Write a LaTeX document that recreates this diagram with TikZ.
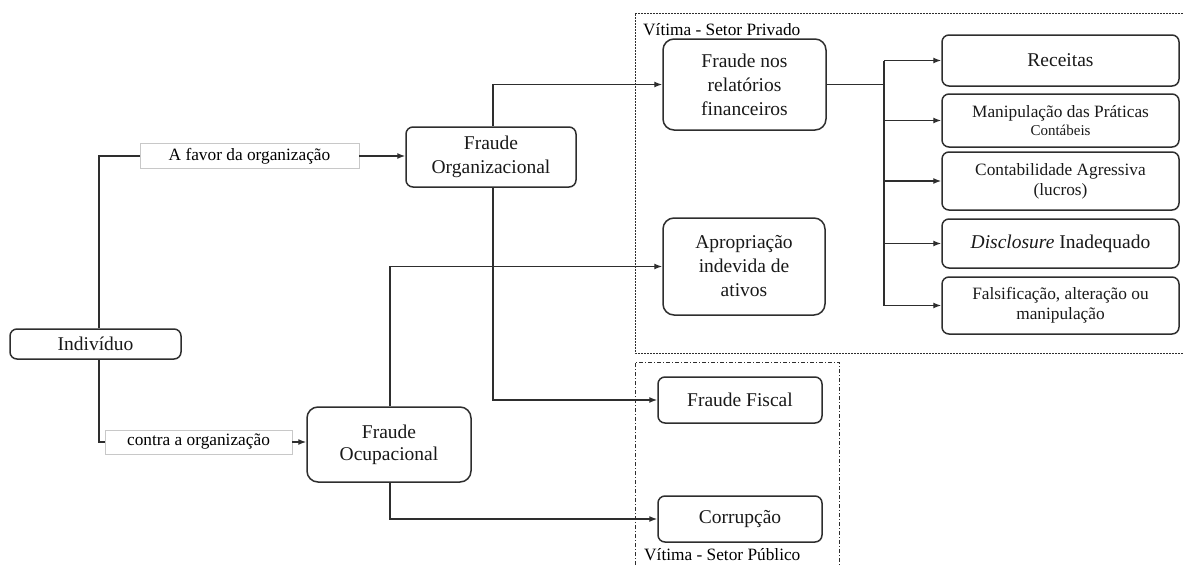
\documentclass[tikz,border=0pt]{standalone}
\usepackage{fontspec}
\setmainfont{Liberation Serif}
\newfontfamily\lser{Liberation Serif}
\usetikzlibrary{arrows.meta}
\definecolor{ln}{HTML}{2E2E2E}
\definecolor{lb}{HTML}{C8C8C8}
\begin{document}
\begin{tikzpicture}[x=1pt,y=-1pt,
  box/.style={draw=ln,line width=1.5pt,rounded corners=7pt,align=center,inner sep=0pt,text=black!90,font=\lser\fontsize{19.5}{24}\selectfont},
  sbox/.style={box,font=\lser\fontsize{17.3}{20}\selectfont},
  lab/.style={draw=lb,line width=0.8pt,inner sep=0pt,align=center,font=\lser\fontsize{17.3}{20}\selectfont,fill=white},
  conn/.style={draw=ln,line width=1.4pt},
  arr/.style={conn,-{Latex[length=8pt,width=6pt]}},
  reg/.style={font=\lser\fontsize{17.3}{20}\selectfont,inner sep=0pt,anchor=west}
]
\useasboundingbox (0,0) rectangle (1183,565);
% regions
\draw[ln,line width=1pt,dash pattern=on 2pt off 1pt] (1183,13) -- (635,13) -- (635,353) -- (1183,353);
\draw[ln,line width=1pt,dash pattern=on 4pt off 2pt on 1pt off 2pt] (635,565) -- (635,362) -- (839,362) -- (839,565);
\node[reg] (vpriv) at (643,30) {Vítima - Setor Privado};
\node[reg] (vpub) at (644,555) {Vítima - Setor Público};
% nodes
\node[box,minimum width=171,minimum height=30] (ind) at (95.5,344) {Indivíduo};
\node[lab,minimum width=219,minimum height=25] (lab1) at (249.5,156) {A favor da organização};
\node[lab,minimum width=187,minimum height=24] (lab2) at (198.5,442) {contra a organização};
\node[box,minimum width=170,minimum height=60] (fo) at (491,157) {Fraude\\Organizacional};
\node[box,rounded corners=11pt,minimum width=164,minimum height=75,font=\lser\fontsize{19.5}{22}\selectfont] (foc) at (389,444.5) {Fraude\\Ocupacional};
\node[box,rounded corners=11pt,minimum width=163,minimum height=91] (fnr) at (744.5,84.5) {Fraude nos\\relatórios\\financeiros};
\node[box,rounded corners=11pt,minimum width=162,minimum height=97] (apr) at (744,266.5) {Apropriação\\indevida de\\ativos};
\node[box,minimum width=164,minimum height=46] (ff) at (740,400) {Fraude Fiscal};
\node[box,minimum width=164,minimum height=46] (cor) at (740,519) {Corrupção};
\node[box,minimum width=237,minimum height=51] (rec) at (1060.5,60.5) {Receitas};
\node[sbox,minimum width=237,minimum height=53] (man) at (1060.5,120.5) {Manipulação das Práticas\\[-2pt]{\fontsize{15}{16}\selectfont Contábeis}};
\node[sbox,minimum width=237,minimum height=58] (con) at (1060.5,181) {Contabilidade Agressiva\\(lucros)};
\node[box,minimum width=237,minimum height=49] (dis) at (1060.5,243.5) {\textit{Disclosure} Inadequado};
\node[sbox,minimum width=237,minimum height=57] (fal) at (1060.5,305.5) {Falsificação, alteração ou\\manipulação};
% connectors
\draw[conn] ([xshift=3.5]ind.north) |- (lab1.west);
\draw[arr] (lab1.east) -- (lab1.east -| fo.west);
\draw[conn] ([xshift=3.5]ind.south) |- (lab2.west);
\draw[arr] (lab2.east) -- (lab2.east -| foc.west);
\draw[arr] ([xshift=2]fo.north) |- (fnr.west);
\draw[arr] ([xshift=2]fo.south) |- (ff.west);
\draw[arr] ([xshift=1]foc.north) |- (apr.west);
\draw[arr] ([xshift=1]foc.south) |- (cor.west);
\coordinate (bus) at (884,0);
\draw[conn] (fnr.east) -- (fnr.east -| bus);
\draw[conn] (bus |- rec.west) -- (bus |- fal.west);
\draw[arr] (bus |- rec.west) -- (rec.west);
\draw[arr] (bus |- man.west) -- (man.west);
\draw[arr] (bus |- con.west) -- (con.west);
\draw[arr] (bus |- dis.west) -- (dis.west);
\draw[arr] (bus |- fal.west) -- (fal.west);
\end{tikzpicture}
\end{document}
